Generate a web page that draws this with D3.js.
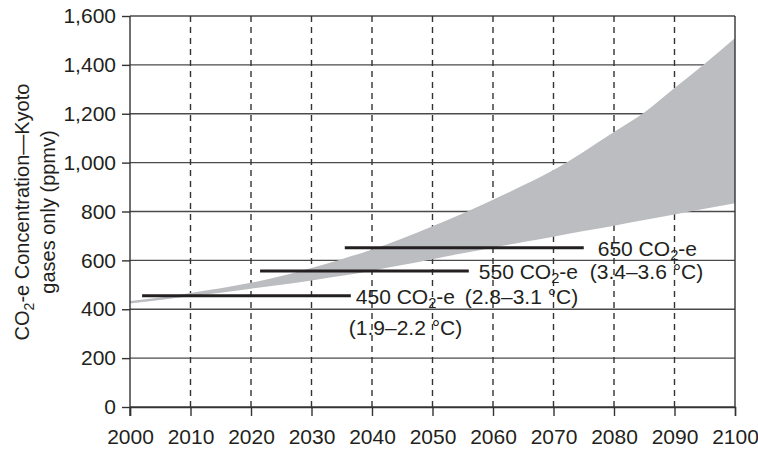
<!DOCTYPE html>
<html>
<head>
<meta charset="utf-8">
<script src="https://cdn.jsdelivr.net/npm/d3@7/dist/d3.min.js"></script>
<style>
  html, body { margin: 0; padding: 0; background: #fff; }
  svg { display: block; }
  text { font-family: "Liberation Sans", Arial, Helvetica, sans-serif; fill: #231f20; }
</style>
</head>
<body>
<svg id="chart" width="758" height="449"></svg>
<script>
// ---- data ----
const years      = [2000, 2005, 2010, 2015, 2020, 2025, 2030, 2035, 2040, 2045, 2050, 2055, 2060, 2065, 2070, 2075, 2080, 2085, 2090, 2095, 2100];
const lowerBound = [ 424,  438,  453,  468,  484,  500,  518,  537,  558,  581,  605,  629,  652,  675,  697,  720,  742,  765,  788,  811,  834];
const upperBound = [ 434,  448,  467,  486,  508,  536,  569,  605,  645,  690,  740,  792,  848,  907,  970, 1045, 1125, 1205, 1305, 1405, 1510];

const targetNames  = ["450", "550", "650"];
const targetLevels = [455, 557, 652];
const targetStart  = [2002, 2021.5, 2035.5];
const targetEnd    = [2036.5, 2056, 2075];
const targetTemps  = ["(1.9\u20132.2 \u00B0C)", "(2.8\u20133.1 \u00B0C)", "(3.4\u20133.6 \u00B0C)"];

const xTicks = [2000, 2010, 2020, 2030, 2040, 2050, 2060, 2070, 2080, 2090, 2100];
const yTicks = [0, 200, 400, 600, 800, 1000, 1200, 1400, 1600];

// ---- layout ----
const svg = d3.select("#chart");
const x = d3.scaleLinear().domain([2000, 2100]).range([130, 735]);
const y = d3.scaleLinear().domain([0, 1600]).range([407, 16]);
const FS = 21;
const gridColor = "#4a4a4a";

// horizontal grid lines (solid)
svg.append("g").selectAll("line").data(yTicks).join("line")
  .attr("x1", x(2000)).attr("x2", x(2100))
  .attr("y1", d => y(d)).attr("y2", d => y(d))
  .attr("stroke", gridColor).attr("stroke-width", 1.4);

// vertical grid lines (dashed)
svg.append("g").selectAll("line").data(xTicks.slice(1, -1)).join("line")
  .attr("x1", d => x(d)).attr("x2", d => x(d))
  .attr("y1", y(1600)).attr("y2", y(0))
  .attr("stroke", "#333").attr("stroke-width", 1.4)
  .attr("stroke-dasharray", "6,5");

// band
const band = years.map((yr, i) => ({ yr, lo: lowerBound[i], hi: upperBound[i] }));
const area = d3.area()
  .x(d => x(d.yr))
  .y0(d => y(d.lo))
  .y1(d => y(d.hi))
  .curve(d3.curveMonotoneX);
svg.append("path").datum(band).attr("d", area).attr("fill", "#bcbdc0");

// axes
const xAxis = d3.axisBottom(x).tickValues(xTicks).tickSize(9).tickFormat(d3.format("d"));
const gx = svg.append("g").attr("transform", `translate(0,${y(0)})`).call(xAxis);
gx.select(".domain").attr("stroke", "#333").attr("stroke-width", 1.4);
gx.selectAll(".tick line").attr("stroke", "#333").attr("stroke-width", 1.4);
gx.selectAll(".tick text").attr("font-size", FS).attr("y", 22).attr("dy", "0.71em")
  .attr("font-family", "Liberation Sans, Arial, sans-serif").attr("fill", "#231f20");

const yAxis = d3.axisLeft(y).tickValues(yTicks).tickSize(8).tickFormat(d3.format(","));
const gy = svg.append("g").attr("transform", `translate(${x(2000)},0)`).call(yAxis);
gy.select(".domain").remove();
gy.append("line").attr("x1", 0).attr("x2", 0).attr("y1", y(1600)).attr("y2", y(0) + 9)
  .attr("stroke", "#333").attr("stroke-width", 1.4);
gy.selectAll(".tick line").attr("stroke", "#333").attr("stroke-width", 1.4);
gy.selectAll(".tick text").attr("font-size", FS).attr("x", -14)
  .attr("font-family", "Liberation Sans, Arial, sans-serif").attr("fill", "#231f20");

// right border
svg.append("line").attr("x1", x(2100)).attr("x2", x(2100))
  .attr("y1", y(1600)).attr("y2", y(0))
  .attr("stroke", "#333").attr("stroke-width", 1.4);

// target lines
svg.append("g").selectAll("line").data(targetLevels).join("line")
  .attr("x1", (d, i) => x(targetStart[i])).attr("x2", (d, i) => x(targetEnd[i]))
  .attr("y1", d => y(d)).attr("y2", d => y(d))
  .attr("stroke", "#231f20").attr("stroke-width", 3);

// target labels
const labelDX  = [5, 10, 14];
const line2DX  = [-7, -14, -8];
const line2DY  = [31, 25, 23];
targetLevels.forEach((lvl, i) => {
  const tx = x(targetEnd[i]) + labelDX[i];
  const ty = y(lvl) + 8;
  const t = svg.append("text").attr("x", tx).attr("y", ty).attr("font-size", FS);
  t.append("tspan").text(targetNames[i] + " CO");
  t.append("tspan").attr("font-size", FS * 0.7).attr("dy", 4).text("2");
  t.append("tspan").attr("dy", -4).text("-e");
  svg.append("text").attr("x", tx + line2DX[i]).attr("y", ty + line2DY[i])
    .attr("font-size", FS).text(targetTemps[i]);
});

// y-axis title
const cy = 212;
const t1 = svg.append("text").attr("transform", `translate(29,${cy}) rotate(-90)`)
  .attr("text-anchor", "middle").attr("font-size", 20);
t1.append("tspan").text("CO");
t1.append("tspan").attr("font-size", 14).attr("dy", 5).text("2");
t1.append("tspan").attr("dy", -5).text("-e Concentration\u2014Kyoto");
svg.append("text").attr("transform", `translate(55,${cy}) rotate(-90)`)
  .attr("text-anchor", "middle").attr("font-size", 20)
  .text("gases only (ppmv)");
</script>
</body>
</html>
